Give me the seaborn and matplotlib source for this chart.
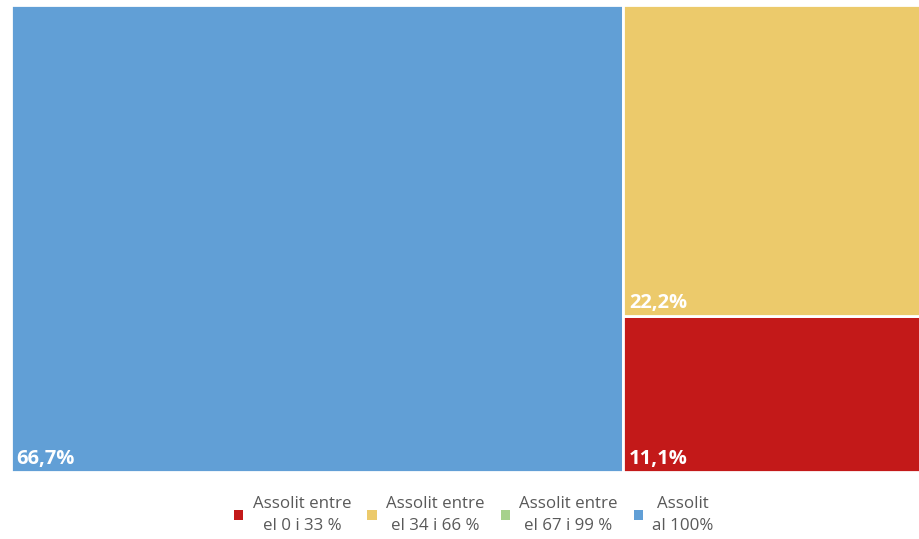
import matplotlib
matplotlib.use("Agg")
import matplotlib.pyplot as plt
from matplotlib.patches import Patch
import seaborn as sns

categories = ["Assolit entre\nel 0 i 33 %", "Assolit entre\nel 34 i 66 %",
              "Assolit entre\nel 67 i 99 %", "Assolit\nal 100%"]
values = [11.1, 22.2, 0.0, 66.7]
colors = ["#c31919", "#ecca6b", "#a6d18c", "#619fd6"]

sns.set_theme(style="white")
plt.rcParams["font.family"] = ["Open Sans", "DejaVu Sans"]

fig = plt.figure(figsize=(9.19, 5.39), dpi=100)
ax = fig.add_axes([11 / 919, 67 / 539, 918 / 919, 467 / 539])

# simple slice layout: biggest item takes a full-height column,
# the rest are stacked in the remaining column
total = sum(values)
order = sorted(range(len(values)), key=lambda i: values[i], reverse=True)
big = order[0]
big_w = values[big] / total
rects = {big: (0.0, 0.0, big_w, 1.0)}
rest = [i for i in range(len(values)) if i != big and values[i] > 0]
rest_total = sum(values[i] for i in rest)
y = 0.0
for i in sorted(rest, key=lambda i: values[i]):
    h = values[i] / rest_total
    rects[i] = (big_w, y, 1.0 - big_w, h)
    y += h

for i, (x0, y0, w, h) in rects.items():
    ax.bar(x0, h, width=w, bottom=y0, align="edge", color=colors[i],
           edgecolor="white", linewidth=2)
    ax.annotate(f"{values[i]:.1f}%".replace(".", ","), (x0, y0),
                xytext=(4, 6), textcoords="offset points",
                color="white", fontsize=14.5, fontweight="bold",
                ha="left", va="baseline")

ax.set_xlim(0, 1)
ax.set_ylim(0, 1)
ax.axis("off")

handles = [Patch(facecolor=c, edgecolor="none") for c in colors]
leg = fig.legend(handles, categories, loc="center", bbox_to_anchor=(474 / 919, 1 - 515 / 539),
                 ncol=4, frameon=False, fontsize=12.2, handlelength=0.55, handleheight=0.55,
                 handletextpad=0.55, columnspacing=0.95, labelcolor="#595959")
for t in leg.get_texts():
    t.set_multialignment("center")
    t.set_linespacing(1.45)

fig.savefig("out.png", dpi=100)
